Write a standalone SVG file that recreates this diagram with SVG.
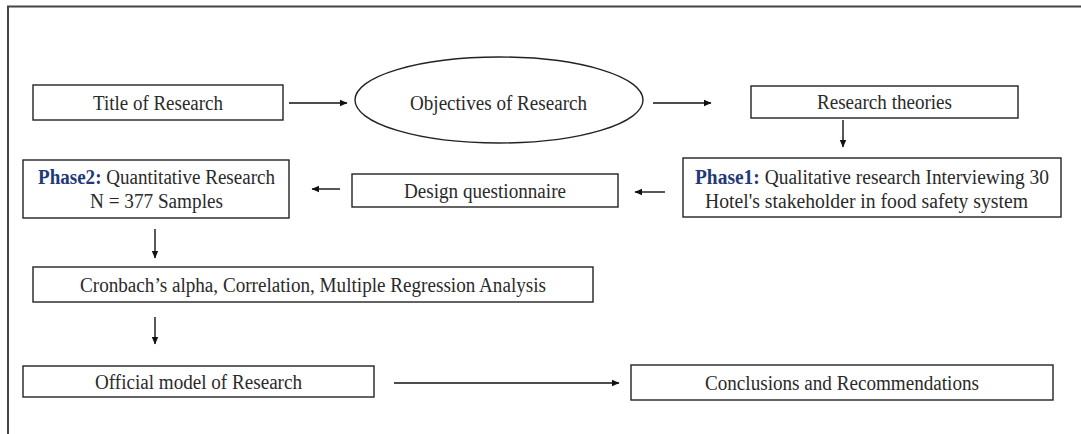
<svg xmlns="http://www.w3.org/2000/svg" width="1081" height="434" viewBox="0 0 1081 434">
<style>
.box{fill:#fff;stroke:#222;stroke-width:1.4}
.t{font-family:"Liberation Serif","Times New Roman",serif;font-size:20px;fill:#2a2a2a}
.ph{font-weight:bold;fill:#1f3a78}
.c{stroke:#111;stroke-width:1.4;fill:none}
</style>
<defs>
<marker id="ah" markerWidth="8" markerHeight="8" refX="7" refY="4" orient="auto" markerUnits="userSpaceOnUse">
<path d="M0,0.8 L7.5,4 L0,7.2 Z" fill="#111"/>
</marker>
</defs>
<rect width="1081" height="434" fill="#fff"/>
<g id="frame">
<path d="M8,434 L8,6.5 L1081,6.5" fill="none" stroke="#444" stroke-width="2"/>
</g>
<g id="connectors">
<line class="c" x1="289" y1="103" x2="347" y2="103" marker-end="url(#ah)"/>
<line class="c" x1="653" y1="103" x2="711" y2="103" marker-end="url(#ah)"/>
<line class="c" x1="843" y1="120" x2="843" y2="147" marker-end="url(#ah)"/>
<line class="c" x1="665" y1="192" x2="635" y2="192" marker-end="url(#ah)"/>
<line class="c" x1="340" y1="189" x2="312" y2="189" marker-end="url(#ah)"/>
<line class="c" x1="155" y1="229" x2="155" y2="258" marker-end="url(#ah)"/>
<line class="c" x1="155" y1="317" x2="155" y2="344" marker-end="url(#ah)"/>
<line class="c" x1="394" y1="383" x2="619" y2="383" marker-end="url(#ah)"/>
</g>
<g id="title">
<rect class="box" x="33" y="85" width="250" height="35"/>
<text class="t" x="93" y="110" textLength="130" lengthAdjust="spacingAndGlyphs">Title of Research</text>
</g>
<g id="objectives">
<ellipse class="box" cx="499" cy="100" rx="144" ry="43"/>
<text class="t" x="410" y="110" textLength="177" lengthAdjust="spacingAndGlyphs">Objectives of Research</text>
</g>
<g id="theories">
<rect class="box" x="751" y="86" width="267" height="32"/>
<text class="t" x="817" y="109" textLength="135" lengthAdjust="spacingAndGlyphs">Research theories</text>
</g>
<g id="phase1">
<rect class="box" x="683" y="158" width="378" height="59"/>
<text class="t" x="695" y="184" textLength="354" lengthAdjust="spacingAndGlyphs"><tspan class="ph">Phase1:</tspan> Qualitative research Interviewing 30</text>
<text class="t" x="705" y="208" textLength="323" lengthAdjust="spacingAndGlyphs">Hotel's stakeholder in food safety system</text>
</g>
<g id="design">
<rect class="box" x="352" y="174" width="266" height="33"/>
<text class="t" x="404" y="198" textLength="162" lengthAdjust="spacingAndGlyphs">Design questionnaire</text>
</g>
<g id="phase2">
<rect class="box" x="23" y="160" width="266" height="58"/>
<text class="t" x="38" y="184" textLength="237" lengthAdjust="spacingAndGlyphs"><tspan class="ph">Phase2:</tspan> Quantitative Research</text>
<text class="t" x="90" y="208" textLength="133" lengthAdjust="spacingAndGlyphs">N = 377 Samples</text>
</g>
<g id="analysis">
<rect class="box" x="33" y="267" width="560" height="35"/>
<text class="t" x="80" y="292" textLength="466" lengthAdjust="spacingAndGlyphs">Cronbach’s alpha, Correlation, Multiple Regression Analysis</text>
</g>
<g id="official">
<rect class="box" x="23" y="366" width="351" height="31"/>
<text class="t" x="95" y="389" textLength="207" lengthAdjust="spacingAndGlyphs">Official model of Research</text>
</g>
<g id="conclusions">
<rect class="box" x="631" y="365" width="422" height="35"/>
<text class="t" x="705" y="390" textLength="274" lengthAdjust="spacingAndGlyphs">Conclusions and Recommendations</text>
</g>
</svg>
